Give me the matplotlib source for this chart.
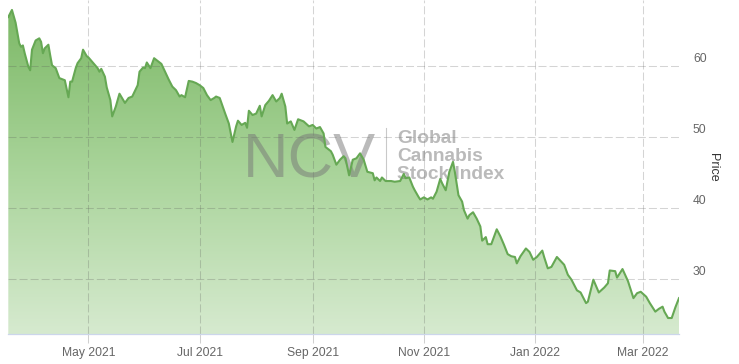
import numpy as np
import pandas as pd
import matplotlib
matplotlib.use("Agg")
import matplotlib.pyplot as plt
import matplotlib.dates as mdates
from matplotlib.colors import LinearSegmentedColormap
from matplotlib.patches import Polygon
from matplotlib.lines import Line2D
from matplotlib.ticker import FixedLocator
from matplotlib.transforms import ScaledTranslation

plt.rcParams['font.family'] = ['Liberation Sans', 'DejaVu Sans']

# Index price
dates = [
    "2021-03-18", "2021-03-20", "2021-03-22", "2021-03-24", "2021-03-25", "2021-03-26", "2021-03-27",
    "2021-03-29", "2021-03-30", "2021-03-31", "2021-04-02", "2021-04-04", "2021-04-05", "2021-04-06",
    "2021-04-07", "2021-04-09", "2021-04-10", "2021-04-11", "2021-04-13", "2021-04-15", "2021-04-18",
    "2021-04-20", "2021-04-21", "2021-04-22", "2021-04-24", "2021-04-25", "2021-04-27", "2021-04-28",
    "2021-04-30", "2021-05-01", "2021-05-03", "2021-05-06", "2021-05-07", "2021-05-08", "2021-05-10",
    "2021-05-11", "2021-05-13", "2021-05-14", "2021-05-16", "2021-05-18", "2021-05-21", "2021-05-23",
    "2021-05-25", "2021-05-28", "2021-05-29", "2021-05-31", "2021-06-01", "2021-06-02", "2021-06-03",
    "2021-06-04", "2021-06-06", "2021-06-08", "2021-06-10", "2021-06-12", "2021-06-14", "2021-06-16",
    "2021-06-18", "2021-06-20", "2021-06-21", "2021-06-23", "2021-06-25", "2021-06-27", "2021-06-29",
    "2021-07-01", "2021-07-03", "2021-07-05", "2021-07-07", "2021-07-09", "2021-07-10", "2021-07-12",
    "2021-07-15", "2021-07-17", "2021-07-19", "2021-07-21", "2021-07-22", "2021-07-24", "2021-07-26",
    "2021-07-27", "2021-07-28", "2021-07-30", "2021-08-01", "2021-08-03", "2021-08-04", "2021-08-06",
    "2021-08-08", "2021-08-10", "2021-08-12", "2021-08-14", "2021-08-15", "2021-08-17", "2021-08-18",
    "2021-08-20", "2021-08-22", "2021-08-24", "2021-08-27", "2021-08-30", "2021-09-01", "2021-09-03",
    "2021-09-05", "2021-09-07", "2021-09-08", "2021-09-11", "2021-09-12", "2021-09-14", "2021-09-16",
    "2021-09-18", "2021-09-19", "2021-09-21", "2021-09-23", "2021-09-25", "2021-09-27", "2021-09-29",
    "2021-10-01", "2021-10-04", "2021-10-05", "2021-10-06", "2021-10-08", "2021-10-09", "2021-10-11",
    "2021-10-14", "2021-10-16", "2021-10-19", "2021-10-21", "2021-10-22", "2021-10-24", "2021-10-26",
    "2021-10-27", "2021-10-29", "2021-10-30", "2021-11-01", "2021-11-03", "2021-11-05", "2021-11-06",
    "2021-11-08", "2021-11-10", "2021-11-11", "2021-11-13", "2021-11-15", "2021-11-17", "2021-11-18",
    "2021-11-20", "2021-11-22", "2021-11-23", "2021-11-25", "2021-11-26", "2021-11-28", "2021-11-30",
    "2021-12-02", "2021-12-03", "2021-12-05", "2021-12-06", "2021-12-08", "2021-12-11", "2021-12-13",
    "2021-12-15", "2021-12-17", "2021-12-19", "2021-12-21", "2021-12-22", "2021-12-24", "2021-12-27",
    "2021-12-29", "2021-12-31", "2022-01-02", "2022-01-05", "2022-01-06", "2022-01-08", "2022-01-10",
    "2022-01-13", "2022-01-17", "2022-01-19", "2022-01-21", "2022-01-24", "2022-01-26", "2022-01-29",
    "2022-01-30", "2022-02-02", "2022-02-05", "2022-02-08", "2022-02-10", "2022-02-11", "2022-02-14",
    "2022-02-15", "2022-02-18", "2022-02-21", "2022-02-24", "2022-02-26", "2022-02-28", "2022-03-03",
    "2022-03-05", "2022-03-08", "2022-03-10", "2022-03-12", "2022-03-13", "2022-03-15", "2022-03-17",
    "2022-03-19", "2022-03-21",
]
prices = [
    66.9, 67.9, 66.1, 63.2, 62.7, 62.9, 61.8,
    59.9, 59.4, 62.3, 63.6, 63.9, 63.4, 61.8,
    62.5, 63.0, 61.5, 60.1, 59.7, 58.3, 58.0,
    55.6, 57.8, 57.8, 59.7, 60.4, 61.1, 62.3,
    61.4, 61.2, 60.6, 59.7, 59.2, 59.6, 58.5,
    57.0, 55.2, 52.9, 54.3, 56.1, 54.8, 55.5,
    55.7, 57.3, 59.2, 59.8, 59.7, 60.5, 60.1,
    59.7, 61.1, 60.7, 60.3, 59.2, 58.1, 57.1,
    56.6, 55.7, 55.9, 55.6, 57.9, 57.8, 57.6,
    57.3, 56.9, 55.9, 55.2, 55.5, 55.7, 55.5,
    53.3, 51.9, 49.3, 51.5, 52.3, 51.7, 52.0,
    51.3, 53.7, 53.1, 53.3, 54.4, 52.9, 54.5,
    55.1, 55.9, 55.0, 55.5, 56.1, 54.3, 51.9,
    52.2, 51.0, 52.5, 52.2, 51.5, 51.7, 51.2,
    51.4, 50.5, 48.6, 48.0, 47.5, 46.1, 46.8,
    47.3, 47.0, 44.6, 46.8, 47.0, 47.7, 46.8,
    45.1, 44.9, 43.9, 44.3, 43.8, 44.3, 43.8,
    43.8, 43.7, 43.8, 44.8, 44.2, 44.3, 43.0,
    42.5, 41.6, 41.2, 41.5, 41.2, 41.5, 41.3,
    42.3, 44.1, 43.5, 42.5, 45.1, 46.5, 45.1,
    41.8, 40.9, 39.7, 38.5, 39.0, 39.4, 38.5,
    37.4, 35.4, 35.9, 34.9, 34.9, 37.0, 36.0,
    34.8, 33.5, 33.2, 33.1, 32.2, 33.2, 34.3,
    33.8, 32.7, 33.1, 34.0, 33.1, 31.5, 31.7,
    33.1, 32.0, 30.6, 29.9, 28.4, 28.1, 26.6,
    26.8, 29.9, 28.1, 28.8, 29.4, 31.2, 31.1,
    30.2, 31.4, 29.7, 27.3, 28.0, 28.2, 27.5,
    26.6, 25.4, 25.8, 26.1, 25.4, 24.5, 24.5,
    26.0, 27.3,
]

month_ticks = ["2021-05-01", "2021-07-01", "2021-09-01", "2021-11-01", "2022-01-01", "2022-03-01"]
price_ticks = [30, 40, 50, 60]
y_range = (22.25, 69.3)

W, H = 739, 364
x = mdates.date2num(pd.to_datetime(dates))
y = np.array(prices)

fig = plt.figure(figsize=(W / 100, H / 100), dpi=100)
ax = fig.add_axes([8.3 / W, 30 / H, (679 - 8.3) / W, 334 / H])

# gradient area fill, clipped to the area under the line
cmap = LinearSegmentedColormap.from_list("area", ["#d6eacf", "#a9d49a", "#7db967"])
grad = np.linspace(0, 1, 256).reshape(-1, 1)
im = ax.imshow(grad, cmap=cmap, origin='lower', aspect='auto', interpolation='bilinear',
               extent=[x[0], x[-1], y_range[0], y.max()], zorder=1)
verts = np.vstack([[x[0], y_range[0]], np.column_stack([x, y]), [x[-1], y_range[0]]])
clip = Polygon(verts, closed=True, transform=ax.transData, facecolor='none', edgecolor='none')
ax.add_patch(clip)
im.set_clip_path(clip)

ax.plot(x, y, color='#66a854', linewidth=1.5, zorder=4, solid_joinstyle='round')

ax.set_xlim(x[0], x[-1])
ax.set_ylim(*y_range)

# axes styling
for side in ['top', 'left', 'right']:
    ax.spines[side].set_visible(False)
ax.spines['bottom'].set_color('#ccd6eb')
ax.spines['bottom'].set_linewidth(0.9)
ax.spines['bottom'].set_zorder(5)

ax.xaxis.set_major_locator(FixedLocator(mdates.date2num(pd.to_datetime(month_ticks))))
ax.xaxis.set_major_formatter(mdates.DateFormatter('%b %Y'))
ax.tick_params(axis='x', length=6.5, width=0.75, color='#d0d0d0', pad=3,
               labelsize=8.7, labelcolor='#666666')

ax.yaxis.tick_right()
ax.yaxis.set_major_locator(FixedLocator(price_ticks))
ax.tick_params(axis='y', length=0, pad=10, labelsize=8.7, labelcolor='#666666')
for lab in ax.get_yticklabels():
    lab.set_transform(lab.get_transform() + ScaledTranslation(0, 0.087, fig.dpi_scale_trans))

ax.yaxis.set_label_position('right')
ax.set_ylabel('Price', rotation=270, color='#333333', fontsize=9, labelpad=9)

ax.set_axisbelow(False)
ax.grid(True, color='#555555', alpha=0.25, linewidth=0.75, linestyle=(0, (7.7, 2.9)), zorder=2)

# watermark
wm = dict(transform=fig.transFigure, color='#777777', alpha=0.5, zorder=3)
ax.text(243 / W, 1 - 177 / H, 'NCV', fontsize=45.4, ha='left', va='baseline', **wm)
ax.add_artist(Line2D([385.5 / W, 385.5 / W], [1 - 128 / H, 1 - 181 / H], transform=fig.transFigure,
                     color='#888888', alpha=0.45, linewidth=0.8, zorder=3))
for txt, base in [('Global', 143), ('Cannabis', 161), ('Stock Index', 179)]:
    ax.text(397 / W, 1 - base / H, txt, fontsize=13.8, fontweight='bold', ha='left', va='baseline', **wm)

fig.savefig("out.png", dpi=100)
